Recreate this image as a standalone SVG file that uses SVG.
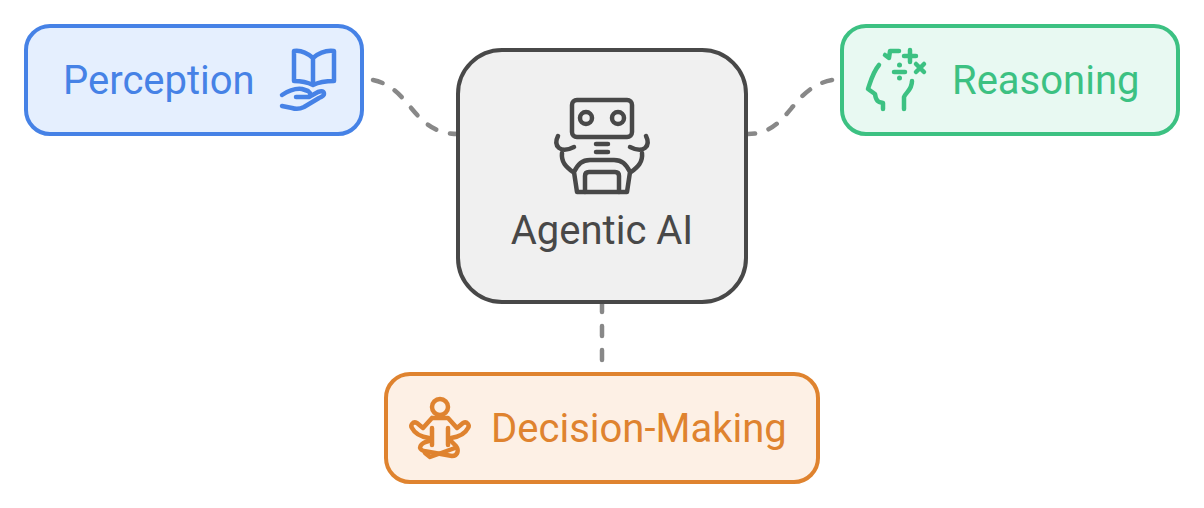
<svg xmlns="http://www.w3.org/2000/svg" width="1204" height="508" viewBox="0 0 1204 508">
<style>
text{font-family:Roboto,"Liberation Sans",sans-serif;font-size:40px}
.box{stroke-width:4}
.ic{fill:none;stroke-width:4.500;stroke-linecap:round;stroke-linejoin:round}
.conn{fill:none;stroke:#888;stroke-width:4.500;stroke-linecap:round;stroke-dasharray:10 14}
</style>
<rect width="1204" height="508" fill="#fff"/>
<g id="connectors">
<path class="conn" d="M373 80C412 88 412 134 458 134"/>
<path class="conn" d="M832 80C790 88 790 134 748 134"/>
<path class="conn" d="M602 302V373"/>
</g>
<g id="agentic-ai">
<rect class="box" x="458" y="50" width="288" height="252" rx="44" fill="#f0f0f0" stroke="#484848"/>
<g class="ic" stroke="#484848">
<rect x="572" y="100" width="60" height="37" rx="5"/>
<circle cx="586" cy="118" r="6"/><circle cx="618" cy="118" r="6"/>
<path d="M596 144H608M596 152H608"/>
<path d="M558 136C553 146 560 154 574 147M646 136C651 146 644 154 630 147"/>
<path d="M562 153C561 162 566 167 573 172M642 153C643 162 638 167 631 172"/>
<path d="M577 192L574 172C578 164 582 160 590 160H614C622 160 626 164 630 172L627 192Z"/>
<path d="M585 192V176Q585 172 589 172H615Q619 172 619 176V192"/>
</g>
<text x="602" y="244" text-anchor="middle" fill="#484848">Agentic AI</text>
</g>
<g id="perception">
<rect class="box" x="26" y="26" width="336" height="108" rx="24" fill="#e5effe" stroke="#4682e6"/>
<text x="63" y="94" fill="#4682e6">Perception</text>
<g class="ic" stroke="#4682e6">
<path d="M313 58C306 52 300 50 294 51V81C300 81 307 82 313 85C319 82 326 81 334 81V51C326 50 320 52 313 58V85"/>
<path d="M282 95C288 91 294 88 302 89L308 91Q313 95 308 97H296"/>
<path d="M309 97L318 92Q324 90 324 94Q324 96 319 98L304 107Q298 110 292 108L282 106"/>
</g>
</g>
<g id="reasoning">
<rect class="box" x="842" y="26" width="336" height="108" rx="24" fill="#e8f9f2" stroke="#3cc182"/>
<text x="952" y="94" fill="#3cc182">Reasoning</text>
<g class="ic" stroke="#3cc182">
<path d="M879 65C873 72 871 80 868 89L875 94C876 102 879 102 883 103V109"/>
<path d="M912 81C912 90 906 92 904 97V109"/>
<path d="M899 51H890L889 58L885 55"/>
<path d="M904 56H916M910 50V62M916 64L924 72M924 64L916 72"/>
<path d="M894 72H905"/>
</g>
<circle cx="899.500" cy="65" r="2.500" fill="#3cc182"/><circle cx="899.500" cy="78" r="2.500" fill="#3cc182"/>
</g>
<g id="decision-making">
<rect class="box" x="386" y="374" width="432" height="108" rx="24" fill="#fdf0e5" stroke="#df832f"/>
<text x="491" y="442" fill="#df832f">Decision-Making</text>
<g class="ic" stroke="#df832f">
<circle cx="440" cy="407" r="8"/>
<path d="M432 418H448L457 428L463 423C467 421 470 425 468 428C465 434 458 437 451 438M432 418L423 428L417 423C413 421 410 425 412 428C415 434 422 437 429 438"/>
<path d="M432 428V445M448 428V445"/>
<path d="M429 441C420 443 417 449 424 451L452 456C458 456 459 450 456 446L451 441"/>
<path d="M425 453L430 457L455 448"/>
</g>
</g>
</svg>
